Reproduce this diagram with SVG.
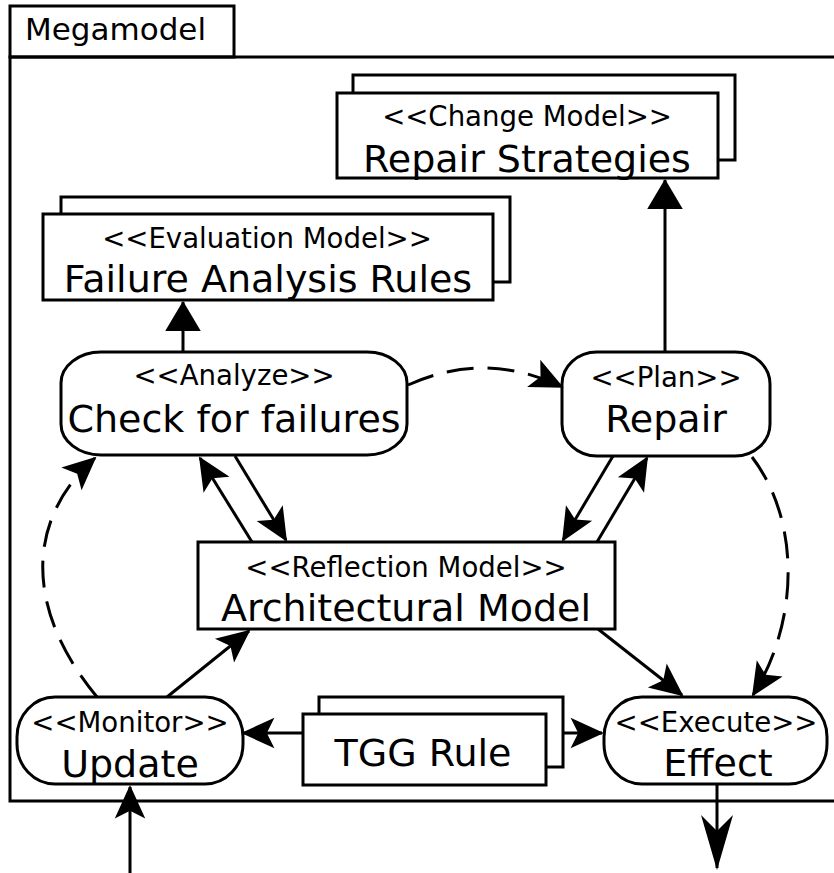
<svg xmlns="http://www.w3.org/2000/svg" width="834" height="873" viewBox="0 0 834 873">
<style>
  .box{fill:#fff;stroke:#000;stroke-width:3}
  .frame{fill:none;stroke:#000;stroke-width:3}
  .st{font-family:"DejaVu Sans",sans-serif;font-size:27.6px;fill:#000;text-anchor:middle}
  .nm{font-family:"DejaVu Sans",sans-serif;font-size:38px;fill:#000;text-anchor:middle}
  .ln{fill:none;stroke:#000;stroke-width:3}
  .dash{fill:none;stroke:#000;stroke-width:3;stroke-dasharray:27 14}
</style>
<defs>
  <marker id="barb" markerUnits="userSpaceOnUse" orient="auto" markerWidth="40" markerHeight="40" refX="0" refY="0" viewBox="-38 -20 42 40" overflow="visible">
    <path d="M2,0 L-33,-16 L-25,0 L-33,16 Z" fill="#000"/>
  </marker>
  <marker id="barbL" markerUnits="userSpaceOnUse" orient="auto" markerWidth="60" markerHeight="40" refX="0" refY="0" viewBox="-56 -18 60 36" overflow="visible">
    <path d="M2,0 L-53,-16 L-37,0 L-53,16 Z" fill="#000"/>
  </marker>
  <marker id="tri" markerUnits="userSpaceOnUse" orient="auto" markerWidth="40" markerHeight="40" refX="0" refY="0" viewBox="-30 -18 34 36" overflow="visible">
    <path d="M1,0 L-26,-16 L-26,16 Z" fill="#000"/>
  </marker>
</defs>
<rect width="834" height="873" fill="#fff"/>
<g id="megamodel">
  <rect class="box" x="10" y="6" width="224" height="51"/>
  <path class="frame" d="M840,57 L10,57 L10,801 L840,801"/>
  <text x="25" y="40" style="font-family:'DejaVu Sans',sans-serif;font-size:31px">Megamodel</text>
</g>
<g id="repair-strategies">
  <rect class="box" x="353" y="75" width="382" height="85"/>
  <rect class="box" x="337" y="93" width="381" height="85"/>
  <text class="st" x="527" y="126">&lt;&lt;Change Model&gt;&gt;</text>
  <text class="nm" x="527" y="172">Repair Strategies</text>
</g>
<g id="failure-analysis-rules">
  <rect class="box" x="61" y="197" width="449" height="85"/>
  <rect class="box" x="43" y="214" width="450" height="86"/>
  <text class="st" x="267" y="248">&lt;&lt;Evaluation Model&gt;&gt;</text>
  <text class="nm" x="268" y="292">Failure Analysis Rules</text>
</g>
<g id="analyze">
  <rect class="box" x="61" y="352" width="346" height="103" rx="40" ry="31"/>
  <text class="st" x="234" y="385">&lt;&lt;Analyze&gt;&gt;</text>
  <text class="nm" x="234" y="432">Check for failures</text>
</g>
<g id="plan">
  <rect class="box" x="562" y="352" width="208" height="104" rx="35" ry="32"/>
  <text class="st" x="666" y="387">&lt;&lt;Plan&gt;&gt;</text>
  <text class="nm" x="666" y="432">Repair</text>
</g>
<g id="architectural-model">
  <rect class="box" x="198" y="542" width="417" height="87"/>
  <text class="st" x="406" y="577">&lt;&lt;Reflection Model&gt;&gt;</text>
  <text class="nm" x="406" y="621">Architectural Model</text>
</g>
<g id="monitor">
  <rect class="box" x="17" y="697" width="226" height="87" rx="38" ry="40"/>
  <text class="st" x="130" y="732">&lt;&lt;Monitor&gt;&gt;</text>
  <text class="nm" x="130" y="777">Update</text>
</g>
<g id="execute">
  <rect class="box" x="604" y="697" width="223" height="87" rx="38" ry="40"/>
  <text class="st" x="716" y="732">&lt;&lt;Execute&gt;&gt;</text>
  <text class="nm" x="718" y="776">Effect</text>
</g>
<g id="tgg-rule">
  <rect class="box" x="319" y="697" width="244" height="70"/>
  <rect class="box" x="303" y="714" width="243" height="71"/>
  <text class="nm" x="423" y="766">TGG Rule</text>
</g>
<g id="connectors">
  <path class="ln" d="M665,352 L665,180" marker-end="url(#tri)"/>
  <path class="ln" d="M183,352 L183,302" marker-end="url(#tri)"/>
  <path class="ln" d="M252,542 L200,458" marker-end="url(#barb)"/>
  <path class="ln" d="M235,456 L286,540" marker-end="url(#barb)"/>
  <path class="ln" d="M613,456 L563,540" marker-end="url(#barb)"/>
  <path class="ln" d="M597,542 L647,458" marker-end="url(#barb)"/>
  <path class="ln" d="M167,697 L249,631" marker-end="url(#barb)"/>
  <path class="ln" d="M598,629 L682,695" marker-end="url(#barb)"/>
  <path class="ln" d="M303,733 L243,733" marker-end="url(#barb)"/>
  <path class="ln" d="M563,733 L602,733" marker-end="url(#barb)"/>
  <path class="ln" d="M130,873 L130,787" marker-end="url(#barb)"/>
  <path class="ln" d="M717,784 L717,868" marker-end="url(#barbL)"/>
  <path class="dash" d="M408,385 Q485,350 562,387" marker-end="url(#barb)"/>
  <path class="dash" d="M97,697 C25,610 25,520 95,458" marker-end="url(#barb)"/>
  <path class="dash" d="M752,457 C800,520 800,620 753,695" marker-end="url(#barb)"/>
</g>
</svg>
